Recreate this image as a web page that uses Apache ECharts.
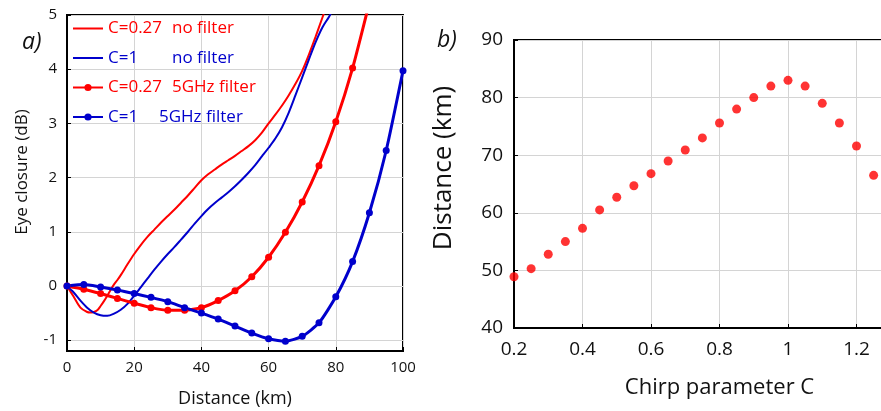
<!DOCTYPE html>
<html>
<head>
<meta charset="utf-8">
<script src="https://cdn.jsdelivr.net/npm/echarts@6/dist/echarts.min.js"></script>
<style>
  html, body { margin: 0; padding: 0; background: #fff; }
  #chart { width: 881px; height: 411px; }
</style>
</head>
<body>
<div id="chart"></div>
<script>
// panel a) eye closure vs distance
const distFilter = [0, 5, 10, 15, 20, 25, 30, 35, 40, 45, 50, 55, 60, 65, 70, 75, 80, 85, 90, 95, 100];
const eyeC027Filter = [0, -0.06, -0.14, -0.23, -0.32, -0.40, -0.45, -0.45, -0.40, -0.27, -0.09, 0.17, 0.53, 0.99, 1.55, 2.22, 3.03, 4.02, 5.23];
const eyeC1Filter = [0, 0.025, -0.02, -0.075, -0.14, -0.21, -0.29, -0.40, -0.50, -0.61, -0.74, -0.87, -0.975, -1.02, -0.93, -0.68, -0.20, 0.45, 1.35, 2.5, 3.97];

const distC027 = [0, 2, 4, 6, 7, 8, 9, 10, 11, 12, 13, 14, 15, 16, 18, 20, 22, 24, 26, 28, 30, 32, 34, 36, 38, 40, 42, 44, 46, 48, 50, 52, 54, 56, 58, 60, 62, 64, 66, 68, 70, 72, 74, 76, 77];
const eyeC027 = [0, -0.2, -0.4, -0.48, -0.49, -0.48, -0.45, -0.37, -0.28, -0.18, -0.07, 0.03, 0.11, 0.2, 0.4, 0.59, 0.76, 0.91, 1.04, 1.17, 1.29, 1.41, 1.54, 1.67, 1.81, 1.95, 2.06, 2.15, 2.24, 2.32, 2.4, 2.49, 2.58, 2.69, 2.83, 3.0, 3.16, 3.33, 3.52, 3.73, 3.97, 4.27, 4.6, 4.95, 5.13];

const distC1 = [0, 2, 4, 6, 8, 10, 12, 14, 16, 18, 20, 22, 24, 26, 28, 30, 32, 34, 36, 38, 40, 42, 44, 46, 48, 50, 52, 54, 56, 58, 60, 62, 64, 66, 68, 70, 72, 74, 76, 78, 80];
const eyeC1 = [0, -0.12, -0.27, -0.4, -0.49, -0.54, -0.55, -0.51, -0.44, -0.33, -0.18, -0.02, 0.14, 0.3, 0.45, 0.59, 0.72, 0.86, 1.0, 1.15, 1.29, 1.42, 1.53, 1.63, 1.73, 1.84, 1.96, 2.09, 2.23, 2.39, 2.55, 2.72, 2.93, 3.2, 3.52, 3.85, 4.18, 4.5, 4.77, 4.97, 5.2];

const eyeTicks = [-1, 0, 1, 2, 3, 4, 5];

// panel b) max distance vs chirp
const chirpC = [0.2, 0.25, 0.3, 0.35, 0.4, 0.45, 0.5, 0.55, 0.6, 0.65, 0.7, 0.75, 0.8, 0.85, 0.9, 0.95, 1.0, 1.05, 1.1, 1.15, 1.2, 1.25];
const maxDist = [48.9, 50.3, 52.8, 55.0, 57.3, 60.5, 62.7, 64.7, 66.8, 69.0, 70.9, 73.0, 75.6, 78.0, 80.0, 82.0, 83.0, 82.0, 79.0, 75.6, 71.6, 66.5];
const chirpTicks = [0.2, 0.4, 0.6, 0.8, 1, 1.2];

const RED = '#ff0000';
const BLUE = '#0000cc';
const FONT = 'Open Sans';
const LINE_ICON = 'path://M0,0H30V2H0Z';

const zip = (xs, ys) => ys.map((y, i) => [xs[i], y]);

const chart = echarts.init(document.getElementById('chart'));

const axisCommon = {
  axisLine: { show: true, onZero: false, lineStyle: { color: '#000', width: 2 } },
  axisTick: { show: true, inside: true, length: 4, lineStyle: { color: '#000' } },
  splitLine: { show: true, lineStyle: { color: '#d4d4d4', width: 1 } },
  nameLocation: 'middle',
};

const seg = (color, width) => ({ color, fontSize: 17, lineHeight: 17, fontFamily: FONT, width });
const legendRich = {
  r: seg(RED), b: seg(BLUE),
  ra: seg(RED, 64), ba: seg(BLUE, 64), bs: seg(BLUE, 51),
};

const legendText = {
  'C=0.27 no filter': '{ra|C=0.27}{r|no filter}',
  'C=1 no filter': '{ba|C=1}{b|no filter}',
  'C=0.27 5GHz filter': '{ra|C=0.27}{r|5GHz filter}',
  'C=1 5GHz filter': '{bs|C=1}{b|5GHz filter}',
};

const option = {
  animation: false,
  textStyle: { fontFamily: FONT },
  grid: [
    { left: 67, top: 15, width: 336, height: 336, outerBoundsMode: 'none', show: true, borderColor: '#000', borderWidth: 2, backgroundColor: 'transparent' },
    { left: 514, top: 40, width: 411, height: 288, outerBoundsMode: 'none', show: true, borderColor: '#000', borderWidth: 2, backgroundColor: 'transparent' },
  ],
  legend: {
    left: 72, top: 20,
    orient: 'vertical',
    itemWidth: 30, itemHeight: 9, itemGap: 12.5,
    padding: 0,
    selectedMode: false,
    formatter: name => legendText[name],
    textStyle: { rich: legendRich, fontSize: 17, lineHeight: 17 },
    data: [
      { name: 'C=0.27 no filter', icon: LINE_ICON },
      { name: 'C=1 no filter', icon: LINE_ICON },
      'C=0.27 5GHz filter',
      'C=1 5GHz filter',
    ],
  },
  xAxis: [
    {
      ...axisCommon, gridIndex: 0, type: 'value', min: 0, max: 100, interval: 20,
      name: 'Distance (km)', nameGap: 39,
      nameTextStyle: { fontSize: 18, color: '#111', fontFamily: FONT },
      axisLabel: { fontSize: 15, color: '#111', margin: 9, fontFamily: FONT },
    },
    {
      ...axisCommon, gridIndex: 1, type: 'value', min: 0.2, max: 1.4,
      name: 'Chirp parameter C', nameGap: 49,
      nameTextStyle: { fontSize: 22, color: '#111', fontFamily: FONT },
      axisLabel: { fontSize: 19, color: '#111', margin: 12, fontFamily: FONT, customValues: chirpTicks, formatter: v => String(+v.toFixed(1)) },
      axisTick: { ...axisCommon.axisTick, customValues: chirpTicks },
    },
  ],
  yAxis: [
    {
      ...axisCommon, gridIndex: 0, type: 'value', min: -1.2, max: 5,
      name: 'Eye closure (dB)', nameGap: 36,
      nameTextStyle: { fontSize: 17, color: '#111', fontFamily: FONT, padding: [0, 0, 0, 22] },
      axisLabel: { fontSize: 15, color: '#111', margin: 10, fontFamily: FONT, customValues: eyeTicks },
      axisTick: { ...axisCommon.axisTick, customValues: eyeTicks },
    },
    {
      ...axisCommon, gridIndex: 1, type: 'value', min: 40, max: 90, interval: 10,
      name: 'Distance (km)', nameGap: 57,
      nameTextStyle: { fontSize: 26, color: '#111', fontFamily: FONT, padding: [0, 0, 0, 32] },
      axisLabel: { fontSize: 19, color: '#111', margin: 11, fontFamily: FONT },
    },
  ],
  graphic: [
    { type: 'text', left: 22, top: 31, style: { text: 'a)', font: 'italic 23px "Open Sans"', fill: '#111' } },
    { type: 'text', left: 437, top: 29, style: { text: 'b)', font: 'italic 23px "Open Sans"', fill: '#111' } },
  ],
  series: [
    {
      name: 'C=0.27 no filter', type: 'line', xAxisIndex: 0, yAxisIndex: 0,
      data: zip(distC027, eyeC027), symbol: 'none', smooth: 0.3, clip: true,
      lineStyle: { color: RED, width: 2 }, itemStyle: { color: RED },
    },
    {
      name: 'C=1 no filter', type: 'line', xAxisIndex: 0, yAxisIndex: 0,
      data: zip(distC1, eyeC1), symbol: 'none', smooth: 0.3, clip: true,
      lineStyle: { color: BLUE, width: 2 }, itemStyle: { color: BLUE },
    },
    {
      name: 'C=0.27 5GHz filter', type: 'line', xAxisIndex: 0, yAxisIndex: 0,
      data: zip(distFilter, eyeC027Filter), symbol: 'circle', symbolSize: 7, smooth: 0.2, clip: true,
      lineStyle: { color: RED, width: 3 }, itemStyle: { color: RED },
    },
    {
      name: 'C=1 5GHz filter', type: 'line', xAxisIndex: 0, yAxisIndex: 0,
      data: zip(distFilter, eyeC1Filter), symbol: 'circle', symbolSize: 7, smooth: 0.2, clip: false,
      lineStyle: { color: BLUE, width: 3 }, itemStyle: { color: BLUE },
    },
    {
      name: 'max distance', type: 'scatter', xAxisIndex: 1, yAxisIndex: 1,
      data: zip(chirpC, maxDist), symbol: 'circle', symbolSize: 9,
      itemStyle: { color: RED },
    },
  ],
};

chart.setOption(option);
</script>
</body>
</html>
